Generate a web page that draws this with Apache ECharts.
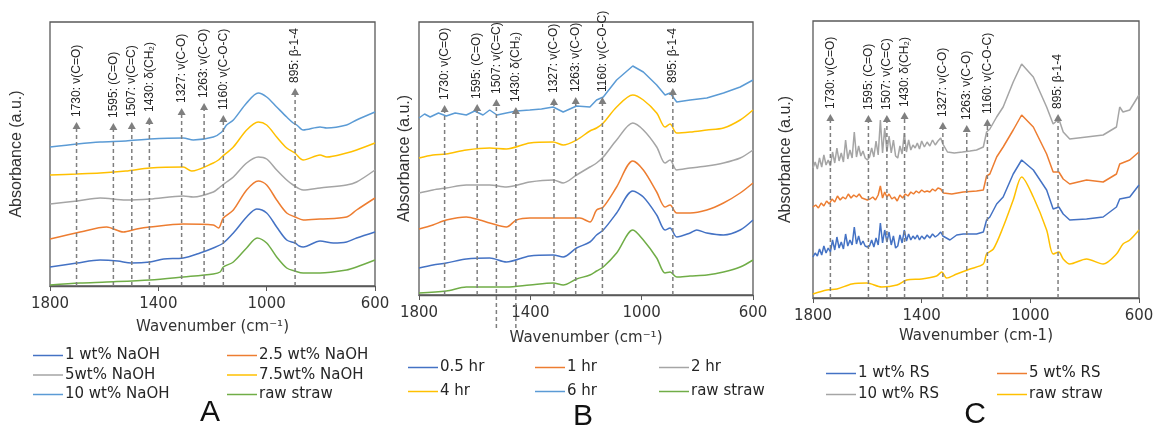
<!DOCTYPE html>
<html>
<head>
<meta charset="utf-8">
<script src="https://cdn.jsdelivr.net/npm/echarts/dist/echarts.min.js"></script>
<style>
html, body { margin: 0; padding: 0; background: #fff; }
#main { width: 1157px; height: 428px; }
</style>
</head>
<body>
<div id="main"></div>
<script>
// FTIR spectra, [wavenumber, offset absorbance (a.u.)]
var A_1wt = [[1800,19],[1700,23],[1615,26],[1550,25],[1500,23],[1431,24],[1380,27],[1308,28],[1246,33],[1197,38],[1160,43],[1123,53],[1074,69],[1037,77],[1000,73],[963,59],[926,46],[895,43],[880,40],[865,39],[803,45],[754,43],[705,44],[668,48],[600,54]];
var A_2p5wt = [[1800,47],[1689,54],[1591,59],[1529,54],[1480,57],[1431,59],[1308,62],[1197,61],[1178,58],[1160,68],[1123,76],[1074,96],[1031,105],[1000,101],[963,86],[926,73],[895,69],[865,66],[803,67],[705,69],[668,76],[600,88]];
var A_5wt = [[1800,82],[1700,85],[1615,88],[1520,86],[1431,87],[1308,90],[1271,89],[1197,94],[1172,99],[1148,104],[1123,109],[1074,123],[1031,129],[1000,127],[963,116],[926,106],[902,101],[865,96],[803,98],[705,101],[668,104],[600,116]];
var A_7p5wt = [[1800,111],[1700,112],[1615,113],[1520,115],[1431,118],[1308,119],[1277,115],[1197,123],[1178,126],[1166,129],[1123,139],[1074,156],[1031,164],[1000,161],[963,149],[926,138],[896,133],[865,126],[803,131],[778,129],[705,133],[668,136],[600,143]];
var A_10wt = [[1800,139],[1700,142],[1615,144],[1520,145],[1431,147],[1308,148],[1271,146],[1197,149],[1166,154],[1148,161],[1123,166],[1074,183],[1031,193],[1000,189],[963,179],[926,169],[902,163],[889,161],[865,156],[803,159],[778,158],[705,161],[668,166],[600,174]];
var A_raw = [[1800,1],[1689,3],[1591,4],[1431,6],[1308,9],[1197,12],[1172,14],[1160,19],[1123,24],[1074,38],[1035,48],[1000,43],[963,29],[926,18],[896,15],[865,13],[803,13],[705,16],[668,19],[600,26]];

var B_0p5 = [[1800,27],[1750,30],[1702,32],[1630,36],[1546,37],[1486,33],[1402,39],[1318,40],[1282,38],[1234,47],[1186,53],[1162,60],[1138,65],[1090,82],[1032,104],[994,98],[946,80],[916,65],[898,67],[874,58],[826,62],[802,65],[766,62],[706,60],[646,65],[600,75]];
var B_1 = [[1800,66],[1750,70],[1702,75],[1630,78],[1582,75],[1546,72],[1486,68],[1450,75],[1402,77],[1318,77],[1282,77],[1222,77],[1186,73],[1162,85],[1138,88],[1090,108],[1032,134],[994,125],[946,103],[916,88],[898,90],[874,82],[826,82],[766,85],[706,92],[646,102],[600,112]];
var B_2 = [[1800,102],[1750,105],[1702,107],[1630,110],[1546,110],[1486,108],[1402,113],[1318,115],[1282,112],[1234,120],[1186,128],[1162,132],[1138,138],[1090,155],[1032,172],[994,165],[946,148],[916,132],[898,135],[874,125],[826,127],[766,129],[706,132],[646,137],[600,145]];
var B_4 = [[1800,137],[1750,140],[1702,141],[1630,145],[1546,147],[1486,146],[1402,152],[1318,153],[1282,150],[1234,155],[1186,164],[1162,167],[1138,172],[1090,188],[1032,200],[994,195],[946,182],[916,168],[898,171],[874,162],[826,163],[766,165],[706,167],[646,175],[600,185]];
var B_6 = [[1800,177],[1780,181],[1760,178],[1730,182],[1702,179],[1670,182],[1630,180],[1600,184],[1570,180],[1546,185],[1520,180],[1486,182],[1450,184],[1402,185],[1360,186],[1318,188],[1282,183],[1234,189],[1186,188],[1162,195],[1138,198],[1090,215],[1032,229],[994,223],[946,210],[916,200],[898,202],[874,193],[826,195],[766,197],[706,202],[646,208],[600,215]];
var B_raw = [[1800,2],[1702,4],[1630,8],[1546,8],[1486,8],[1402,10],[1318,12],[1282,10],[1234,16],[1186,20],[1162,24],[1138,28],[1090,42],[1032,65],[994,55],[946,37],[916,22],[898,23],[874,18],[826,19],[766,20],[706,23],[646,28],[600,35]];

var C_1wt = [[1800,41],[1792,45],[1784,42],[1776,49],[1768,43],[1760,52],[1752,45],[1744,50],[1736,46],[1728,58],[1720,48],[1712,61],[1704,50],[1696,56],[1688,49],[1680,64],[1672,52],[1664,58],[1656,53],[1648,71],[1640,54],[1632,62],[1624,53],[1616,57],[1608,52],[1600,51],[1592,52],[1584,58],[1576,51],[1568,60],[1560,53],[1552,75],[1544,55],[1536,68],[1528,56],[1520,66],[1512,53],[1504,62],[1496,50],[1488,52],[1480,63],[1472,55],[1464,68],[1456,57],[1448,64],[1440,58],[1432,62],[1424,59],[1416,63],[1408,58],[1400,62],[1390,59],[1380,63],[1370,60],[1360,64],[1350,61],[1340,63],[1330,66],[1322,62],[1296,58],[1271,63],[1247,64],[1198,64],[1173,66],[1161,78],[1149,81],[1124,94],[1100,101],[1063,124],[1032,138],[989,128],[940,108],[916,89],[895,91],[879,84],[855,78],[793,79],[732,81],[683,91],[671,99],[634,101],[600,113]];
var C_5wt = [[1800,91],[1790,93],[1780,90],[1770,95],[1760,92],[1750,97],[1740,94],[1730,99],[1720,96],[1710,102],[1700,98],[1690,101],[1680,99],[1670,104],[1660,100],[1650,103],[1640,101],[1630,104],[1620,100],[1610,99],[1600,98],[1590,99],[1580,101],[1570,98],[1560,103],[1552,112],[1544,100],[1536,106],[1528,101],[1520,104],[1510,99],[1500,101],[1490,97],[1480,103],[1470,100],[1460,104],[1450,102],[1440,106],[1430,104],[1420,107],[1410,105],[1400,108],[1390,106],[1380,107],[1370,106],[1360,109],[1350,107],[1340,110],[1330,109],[1320,105],[1289,104],[1247,106],[1198,107],[1173,108],[1161,122],[1149,124],[1124,141],[1100,151],[1063,168],[1032,183],[989,171],[940,144],[916,126],[895,126],[879,119],[855,114],[793,118],[732,116],[683,124],[671,134],[634,138],[600,146]];
var C_10wt = [[1800,130],[1792,136],[1784,129],[1776,140],[1768,131],[1760,143],[1752,133],[1744,138],[1736,132],[1728,146],[1720,135],[1712,150],[1704,137],[1696,145],[1688,136],[1680,158],[1672,139],[1664,148],[1656,140],[1648,166],[1640,141],[1632,152],[1624,142],[1616,147],[1608,140],[1600,138],[1592,141],[1584,150],[1576,141],[1568,157],[1560,143],[1552,178],[1544,145],[1536,170],[1528,146],[1520,162],[1512,145],[1504,158],[1496,142],[1488,140],[1480,152],[1472,144],[1464,165],[1456,146],[1448,158],[1440,148],[1432,153],[1424,150],[1416,155],[1408,149],[1400,157],[1390,151],[1380,156],[1370,152],[1360,158],[1350,153],[1340,157],[1330,160],[1322,154],[1305,146],[1280,145],[1250,146],[1222,147],[1198,148],[1173,151],[1161,166],[1149,169],[1124,181],[1100,191],[1063,216],[1032,234],[989,221],[940,191],[916,174],[895,179],[879,166],[855,159],[793,161],[732,163],[683,171],[671,191],[659,186],[634,188],[600,203]];
var C_raw = [[1800,4],[1749,8],[1712,9],[1657,14],[1602,15],[1547,11],[1491,13],[1455,18],[1400,19],[1345,22],[1326,26],[1308,20],[1271,24],[1222,29],[1173,34],[1161,44],[1136,49],[1100,71],[1063,98],[1032,121],[989,101],[940,68],[916,44],[895,46],[879,39],[855,34],[793,39],[732,34],[683,44],[659,54],[634,58],[600,68]];

// band assignments
var peakLabels = ['1730: ν(C=O)', '1595: (C=O)', '1507: ν(C=C)', '1430: δ(CH₂)', '1327: ν(C-O)', '1263: ν(C-O)', '1160: ν(C-O-C)', '895: β-1-4'];
var A_pos = [1702, 1566, 1498, 1433, 1314, 1231, 1160, 895];
var A_tip = [164, 163, 164, 169, 178, 183, 171, 198];
var B_pos = [1708, 1591, 1522, 1452, 1315, 1237, 1141, 888];
var B_tip = [190, 191, 196, 188, 197, 198, 198, 207];
var B_base = [0, 0, -33, -33, 0, 0, 0, 0];
var C_pos = [1736, 1596, 1528, 1463, 1322, 1234, 1158, 898];
var C_tip = [184, 183, 183, 186, 176, 173, 179, 184];

var xTicks = [600, 1000, 1400, 1800];

var BLUE = '#4472C4', ORANGE = '#ED7D31', GRAY = '#A5A5A5', YELLOW = '#FFC000', LBLUE = '#5B9BD5', GREEN = '#70AD47';
var FONT = 'DejaVu Sans';

var chart = echarts.init(document.getElementById('main'));

function mk(idx, name, color, data, smooth) {
    return {
        type: 'line', name: name, xAxisIndex: idx, yAxisIndex: idx,
        data: data, symbol: 'none', smooth: smooth,
        lineStyle: {color: color, width: 1.5}, itemStyle: {color: color}
    };
}

function xAx(idx, name, gap) {
    return {
        gridIndex: idx, type: 'value', inverse: true,
        min: xTicks[0], max: xTicks[xTicks.length - 1], interval: 400,
        name: name, nameLocation: 'middle', nameGap: gap,
        nameTextStyle: {fontFamily: FONT, fontSize: 15, color: '#333'},
        axisLine: {lineStyle: {color: '#595959', width: 1.3}},
        axisTick: {length: 5, lineStyle: {color: '#595959'}},
        axisLabel: {fontFamily: FONT, fontSize: 15, color: '#333', margin: 11,
            formatter: function (v) { return String(v); }},
        splitLine: {show: false}
    };
}

function yAx(idx, h, gap) {
    return {
        gridIndex: idx, type: 'value', min: 0, max: h,
        name: 'Absorbance (a.u.)', nameLocation: 'middle', nameGap: gap, nameRotate: 90,
        nameTextStyle: {fontFamily: 'Liberation Sans', fontSize: 16, color: '#333'},
        axisLine: {show: false}, axisTick: {show: false},
        axisLabel: {show: false}, splitLine: {show: false}
    };
}

function leg(items, left, top, gap) {
    return {
        data: items, orient: 'vertical', left: left, top: top,
        icon: 'rect', itemWidth: 30, itemHeight: 1.5, itemGap: gap, padding: 0,
        selectedMode: false,
        formatter: function (n) { return n.split('|')[1]; },
        textStyle: {fontFamily: FONT, fontSize: 15, color: '#262626', lineHeight: 14, height: 14, padding: [0, 0, 0, -3]}
    };
}

var gridStyle = {show: true, borderColor: '#595959', borderWidth: 1.3, backgroundColor: '#fff'};

var option = {
    animation: false,
    backgroundColor: '#fff',
    title: [
        {text: 'A', left: 205, top: 393, textAlign: 'center', textStyle: {fontFamily: 'Liberation Sans', fontSize: 30, fontWeight: 'normal', color: '#111'}},
        {text: 'B', left: 578, top: 397, textAlign: 'center', textStyle: {fontFamily: 'Liberation Sans', fontSize: 30, fontWeight: 'normal', color: '#111'}},
        {text: 'C', left: 970, top: 395, textAlign: 'center', textStyle: {fontFamily: 'Liberation Sans', fontSize: 30, fontWeight: 'normal', color: '#111'}}
    ],
    grid: [
        Object.assign({left: 50, width: 325, top: 22, height: 264}, gridStyle),
        Object.assign({left: 419, width: 334, top: 22, height: 273}, gridStyle),
        Object.assign({left: 813, width: 326, top: 21, height: 277}, gridStyle)
    ],
    xAxis: [
        xAx(0, 'Wavenumber (cm⁻¹)', 34),
        xAx(1, 'Wavenumber (cm⁻¹)', 36),
        xAx(2, 'Wavenumber (cm-1)', 30)
    ],
    yAxis: [yAx(0, 264, 25), yAx(1, 273, 6), yAx(2, 277, 19)],
    legend: [
        leg(['A|1 wt% NaOH', 'A|5wt% NaOH', 'A|10 wt% NaOH'], 33, 348, 4.5),
        leg(['A|2.5 wt% NaOH', 'A|7.5wt% NaOH', 'A|raw straw'], 227, 348, 4.5),
        leg(['B|0.5 hr', 'B|4 hr'], 408, 360, 9),
        leg(['B|1 hr', 'B|6 hr'], 535, 360, 9),
        leg(['B|2 hr', 'B|raw straw'], 659, 360, 9),
        leg(['C|1 wt% RS', 'C|10 wt% RS'], 826, 366, 6),
        leg(['C|5 wt% RS', 'C|raw straw'], 997, 366, 6)
    ],
    series: [
        mk(0, 'A|1 wt% NaOH', BLUE, A_1wt, 0.3),
        mk(0, 'A|2.5 wt% NaOH', ORANGE, A_2p5wt, 0.3),
        mk(0, 'A|5wt% NaOH', GRAY, A_5wt, 0.3),
        mk(0, 'A|7.5wt% NaOH', YELLOW, A_7p5wt, 0.3),
        mk(0, 'A|10 wt% NaOH', LBLUE, A_10wt, 0.3),
        mk(0, 'A|raw straw', GREEN, A_raw, 0.3),
        mk(1, 'B|0.5 hr', BLUE, B_0p5, 0.3),
        mk(1, 'B|1 hr', ORANGE, B_1, 0.3),
        mk(1, 'B|2 hr', GRAY, B_2, 0.3),
        mk(1, 'B|4 hr', YELLOW, B_4, 0.3),
        mk(1, 'B|6 hr', LBLUE, B_6, false),
        mk(1, 'B|raw straw', GREEN, B_raw, 0.3),
        mk(2, 'C|1 wt% RS', BLUE, C_1wt, false),
        mk(2, 'C|5 wt% RS', ORANGE, C_5wt, false),
        mk(2, 'C|10 wt% RS', GRAY, C_10wt, false),
        mk(2, 'C|raw straw', YELLOW, C_raw, 0.3)
    ]
};
chart.setOption(option);

// dashed band markers with arrow heads and rotated labels
var graphics = [];
function annotate(idx, pos, tip, base) {
    for (var i = 0; i < pos.length; i++) {
        var t = chart.convertToPixel({gridIndex: idx}, [pos[i], tip[i]]);
        var b = chart.convertToPixel({gridIndex: idx}, [pos[i], base ? base[i] : 0]);
        graphics.push({
            type: 'line', z: 50,
            shape: {x1: t[0], y1: b[1], x2: t[0], y2: t[1] + 6},
            style: {stroke: '#7f7f7f', lineWidth: 1.5, lineDash: [4, 3]}
        });
        graphics.push({
            type: 'polygon', z: 51,
            shape: {points: [[t[0], t[1]], [t[0] - 4, t[1] + 7], [t[0] + 4, t[1] + 7]]},
            style: {fill: '#7f7f7f'}
        });
        graphics.push({
            type: 'text', z: 52, x: t[0], y: t[1] - 5, rotation: Math.PI / 2,
            style: {
                text: peakLabels[i], x: 0, y: 0,
                font: '12px "Liberation Sans"', fill: '#262626',
                align: 'left', verticalAlign: 'middle',
                textAlign: 'left', textVerticalAlign: 'middle'
            }
        });
    }
}
annotate(0, A_pos, A_tip);
annotate(1, B_pos, B_tip, B_base);
annotate(2, C_pos, C_tip);
chart.setOption({graphic: graphics});
</script>
</body>
</html>
